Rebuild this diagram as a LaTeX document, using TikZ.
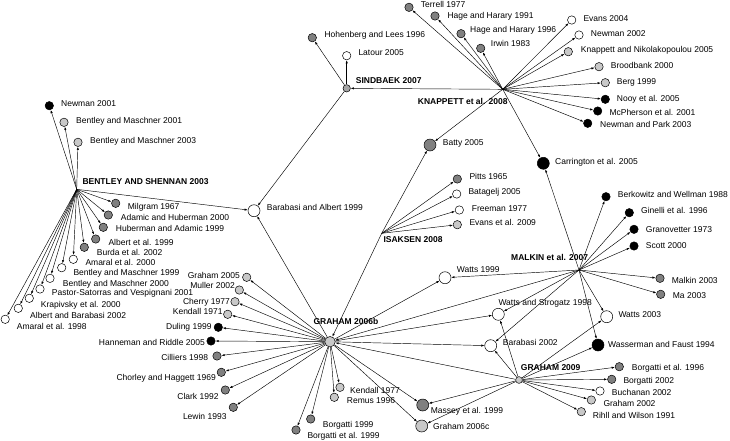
\documentclass[tikz,border=0pt]{standalone}
\usepackage{fontspec}
\setmainfont{Liberation Sans}
\usetikzlibrary{arrows.meta}
\definecolor{dkg}{RGB}{128,128,128}
\definecolor{ltg}{RGB}{200,200,200}
\definecolor{mdg}{RGB}{165,165,165}
\newcommand\mkleaf[6]{%
  \node[#2] (#1) at (#3) {};
  \node[lbl,anchor=#4] (#1-t) at (#5) {#6};}
\begin{document}
\begin{tikzpicture}[x=1pt,y=-1pt,
  nd/.style={circle,draw,line width=0.5pt,inner sep=0pt,minimum size=8.4pt},
  bg/.style={circle,draw,line width=0.5pt,inner sep=0pt,minimum size=12pt},
  wh/.style={nd,fill=white}, lt/.style={nd,fill=ltg}, dk/.style={nd,fill=dkg}, bk/.style={nd,fill=black},
  bwh/.style={bg,fill=white}, blt/.style={bg,fill=ltg}, bdk/.style={bg,fill=dkg}, bbk/.style={bg,fill=black},
  lbl/.style={inner sep=0pt,text height=6.1pt,text depth=0pt,font=\fontsize{8.5}{10}\selectfont},
  hl/.style={lbl,font=\fontsize{8.5}{10}\selectfont\bfseries},
  edge/.style={line width=0.45pt,-{Latex[length=3.2pt,width=2.2pt]}}]
\useasboundingbox (0,0) rectangle (730,440);
% hubs
\coordinate (bs) at (76.7,189.3);
\coordinate (kn) at (502.7,89.3);
\coordinate (is) at (381.7,233.3);
\coordinate (mk) at (579,270);
\node[nd,fill=mdg,minimum size=7.4pt] (sb) at (346.7,88.3) {};
\node[nd,fill=ltg,minimum size=10.5pt] (g6b) at (330,341.7) {};
\node[nd,fill=ltg,minimum size=6.8pt] (g09) at (519,380) {};
\node[hl,anchor=west] (bs-t) at (82.3,181.7) {BENTLEY AND SHENNAN 2003};
\node[hl,anchor=west] (sb-t) at (355.7,80) {SINDBAEK 2007};
\node[hl,anchor=west] (kn-t) at (417.7,101.7) {KNAPPETT et al. 2008};
\node[hl,anchor=west] (is-t) at (383.3,239.3) {ISAKSEN 2008};
\node[hl,anchor=west] (mk-t) at (511,257.3) {MALKIN et al. 2007};
\node[hl,anchor=west] (g6b-t) at (313.3,321) {GRAHAM 2006b};
\node[hl,anchor=west] (g09-t) at (520.7,367.3) {GRAHAM 2009};
% Bentley and Shennan leaves
\mkleaf{newman01}{bk}{49.3,105.7}{west}{61,103.3}{Newman 2001}
\mkleaf{bm01}{lt}{64,122.3}{west}{76,120}{Bentley and Maschner 2001}
\mkleaf{bm03}{lt}{78,142.3}{west}{90,140}{Bentley and Maschner 2003}
\mkleaf{milgram}{dk}{115.7,203.3}{west}{127.7,206}{Milgram 1967}
\mkleaf{adhu}{dk}{108.3,215}{west}{120.7,217.7}{Adamic and Huberman 2000}
\mkleaf{huad}{dk}{103.3,227.3}{west}{115.7,228.3}{Huberman and Adamic 1999}
\mkleaf{albert99}{dk}{95.7,239}{west}{108.3,242.3}{Albert et al. 1999}
\mkleaf{burda}{dk}{84.3,247.3}{west}{96.7,252.3}{Burda et al. 2002}
\mkleaf{amaral00}{wh}{73.3,259.3}{west}{85.3,262.3}{Amaral et al. 2000}
\mkleaf{bm99}{wh}{61.7,267.7}{west}{73.3,272.7}{Bentley and Maschner 1999}
\mkleaf{bm00}{wh}{50,278.3}{west}{62.7,283}{Bentley and Maschner 2000}
\mkleaf{pastor}{wh}{40,289}{west}{51.7,292.7}{Pastor-Satorras and Vespignani 2001}
\mkleaf{krap}{wh}{29.3,298.3}{west}{40.7,304.7}{Krapivsky et al. 2000}
\mkleaf{albar}{wh}{18.3,308.3}{west}{30,315.7}{Albert and Barabasi 2002}
\mkleaf{amaral98}{wh}{5.2,319.3}{west}{16.7,326}{Amaral et al. 1998}
% Graham 2006b leaves
\mkleaf{g2005}{lt}{246.7,277.3}{east}{240,275}{Graham 2005}
\mkleaf{muller}{lt}{239.3,290}{east}{235,285.7}{Muller 2002}
\mkleaf{cherry}{lt}{235,301.7}{east}{230,301}{Cherry 1977}
\mkleaf{kendall71}{lt}{227.7,314.3}{east}{222.7,311.7}{Kendall 1971}
\mkleaf{duling}{bk}{218.3,327.3}{east}{211.7,326.7}{Duling 1999}
\mkleaf{hanneman}{bk}{211,341}{east}{205,342.3}{Hanneman and Riddle 2005}
\mkleaf{cilliers}{dk}{217,356}{east}{208.3,357.3}{Cilliers 1998}
\mkleaf{chorley}{dk}{221.3,372.3}{east}{216,377.3}{Chorley and Haggett 1969}
\mkleaf{clark}{dk}{225.3,390}{east}{218.7,396.7}{Clark 1992}
\mkleaf{lewin}{dk}{233.3,407.3}{east}{226.7,416}{Lewin 1993}
\mkleaf{kendall77}{lt}{340,387.3}{west}{350,390.7}{Kendall 1977}
\mkleaf{remus}{lt}{334.3,397.3}{west}{346.7,400}{Remus 1996}
\mkleaf{borg99}{dk}{310.7,419}{west}{322.7,424}{Borgatti 1999}
\mkleaf{borget99}{dk}{296,430}{west}{307.3,435}{Borgatti et al. 1999}
\mkleaf{massey}{bdk}{422.7,405}{west}{430.7,410}{Massey et al. 1999}
\mkleaf{g2006c}{blt}{421.7,426}{west}{433,426}{Graham 2006c}
% Sindbaek leaves
\mkleaf{hohen}{dk}{312.3,37.7}{west}{324.3,34.3}{Hohenberg and Lees 1996}
\mkleaf{latour}{wh}{346.7,55.7}{west}{358.3,52.7}{Latour 2005}
% Knappett leaves
\mkleaf{terrell}{dk}{409,7.3}{west}{420.7,4.6}{Terrell 1977}
\mkleaf{hage91}{dk}{435,16}{west}{447.3,15.7}{Hage and Harary 1991}
\mkleaf{hage96}{dk}{461,33.7}{west}{470,29.3}{Hage and Harary 1996}
\mkleaf{irwin}{dk}{480.7,48.3}{west}{490.7,43.3}{Irwin 1983}
\mkleaf{evans04}{wh}{571.7,20}{west}{583.3,18.3}{Evans 2004}
\mkleaf{newman02}{wh}{579,35}{west}{590.7,33.3}{Newman 2002}
\mkleaf{knnik}{lt}{568.3,51.7}{west}{580.7,49.3}{Knappett and Nikolakopoulou 2005}
\mkleaf{brood}{lt}{599,66.7}{west}{610.7,65.7}{Broodbank 2000}
\mkleaf{berg}{lt}{605.3,82.7}{west}{616.7,81.7}{Berg 1999}
\mkleaf{nooy}{bk}{605.3,99.3}{west}{616.7,98.7}{Nooy et al. 2005}
\mkleaf{mcph}{bk}{597.7,111}{west}{609.3,112.7}{McPherson et al. 2001}
\mkleaf{newpark}{bk}{587.7,123.3}{west}{600,124.3}{Newman and Park 2003}
\mkleaf{batty}{bdk}{430,145}{west}{442.7,142.7}{Batty 2005}
\mkleaf{carr}{bbk}{543.3,163.3}{west}{555,161.7}{Carrington et al. 2005}
% Isaksen leaves
\mkleaf{pitts}{dk}{457.3,179}{west}{469.3,176}{Pitts 1965}
\mkleaf{batagelj}{wh}{456.7,194}{west}{468.3,191.7}{Batagelj 2005}
\mkleaf{freeman}{wh}{459.3,210}{west}{471.7,208.3}{Freeman 1977}
\mkleaf{evans09}{lt}{457.3,224.7}{west}{469.3,222.7}{Evans et al. 2009}
% Malkin leaves
\mkleaf{berk}{bk}{606,196.7}{west}{617.7,194.3}{Berkowitz and Wellman 1988}
\mkleaf{ginelli}{bk}{629.3,212.7}{west}{641,210.7}{Ginelli et al. 1996}
\mkleaf{gran}{bk}{634,229.3}{west}{645.7,229}{Granovetter 1973}
\mkleaf{scott}{bk}{634,246}{west}{645.7,245.3}{Scott 2000}
\mkleaf{malkin03}{dk}{660,278.3}{west}{671.7,280.7}{Malkin 2003}
\mkleaf{ma03}{dk}{660.7,294.3}{west}{672.7,295}{Ma 2003}
% large middle nodes
\mkleaf{ba99}{bwh}{254,210.7}{west}{266.7,207.3}{Barabasi and Albert 1999}
\mkleaf{watts99}{bwh}{445,277.7}{west}{456.7,269}{Watts 1999}
\mkleaf{ws98}{bwh}{498.3,314.3}{west}{498.3,302.7}{Watts and Strogatz 1998}
\mkleaf{bar02}{bwh}{490.7,345.7}{west}{502.7,342.7}{Barabasi 2002}
\mkleaf{watts03}{bwh}{606.7,316.7}{west}{618.3,314.3}{Watts 2003}
\mkleaf{wass}{bbk}{598,345}{west}{608,344}{Wasserman and Faust 1994}
% Graham 2009 leaves
\mkleaf{borg96}{dk}{619.3,366.7}{west}{631.7,367.3}{Borgatti et al. 1996}
\mkleaf{borg02}{dk}{611.7,379.3}{west}{623.3,380}{Borgatti 2002}
\mkleaf{buch}{wh}{600,391}{west}{611.7,392.3}{Buchanan 2002}
\mkleaf{gr02}{lt}{591.3,400}{west}{603.3,403.3}{Graham 2002}
\mkleaf{rihll}{lt}{581.3,411.7}{west}{592.7,415}{Rihll and Wilson 1991}
% edges
\foreach \t in {newman01,bm01,bm03,milgram,adhu,huad,albert99,burda,amaral00,bm99,bm00,pastor,krap,albar,amaral98,ba99}
  \draw[edge] (bs) -- (\t);
\foreach \t in {hohen,latour,ba99}
  \draw[edge] (sb) -- (\t);
\foreach \t in {sb,terrell,hage91,hage96,irwin,evans04,newman02,knnik,brood,berg,nooy,mcph,newpark,batty,carr}
  \draw[edge] (kn) -- (\t);
\foreach \t in {pitts,batagelj,freeman,evans09,batty,g6b}
  \draw[edge] (is) -- (\t);
\foreach \t in {ba99,g2005,muller,cherry,kendall71,duling,hanneman,cilliers,chorley,clark,lewin,kendall77,remus,borg99,borget99,massey,g2006c,watts99,ws98,bar02}
  \draw[edge] (g6b) -- (\t);
\foreach \t in {g6b,carr,berk,ginelli,gran,scott,malkin03,ma03,watts99,ws98,bar02,watts03,wass}
  \draw[edge] (mk) -- (\t);
\foreach \t in {g6b,ws98,bar02,watts03,wass,massey,g2006c,borg96,borg02,buch,gr02,rihll}
  \draw[edge] (g09) -- (\t);
\end{tikzpicture}
\end{document}
